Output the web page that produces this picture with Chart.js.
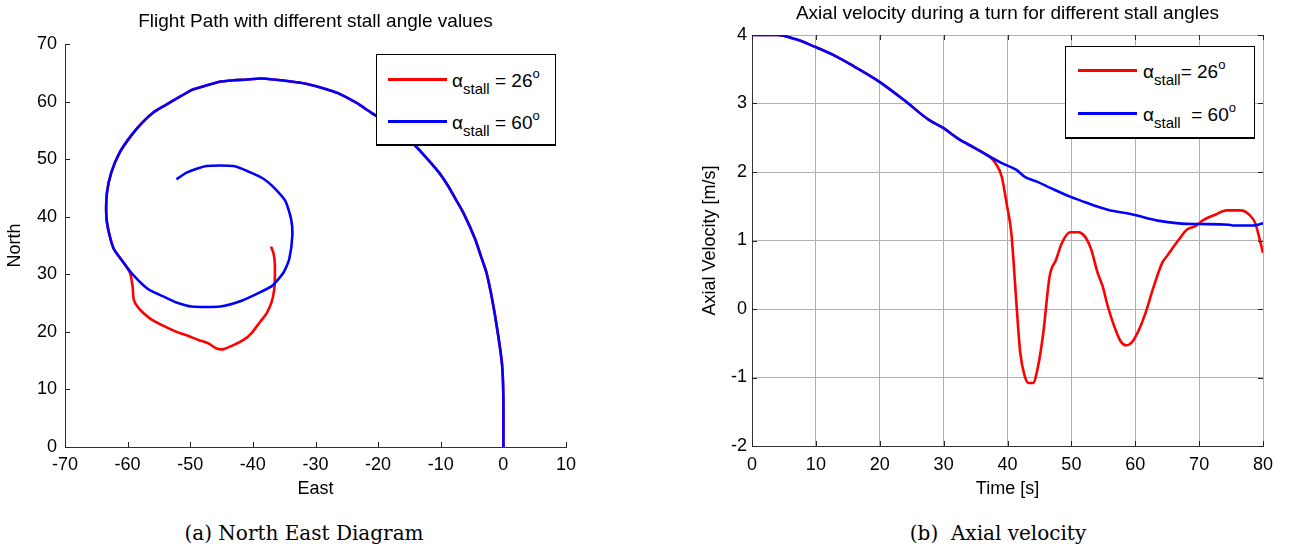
<!DOCTYPE html>
<html>
<head>
<meta charset="utf-8">
<script src="https://cdn.jsdelivr.net/npm/chart.js@4.4.1/dist/chart.umd.min.js"></script>
<style>
  body { margin: 0; background: #fff; width: 1290px; height: 550px; overflow: hidden; position: relative; font-family: "Liberation Sans", Arial, sans-serif; }
  canvas { position: absolute; top: 0; }
  #path { left: 0; }
  #speed { left: 640px; }
  .legend { position: absolute; background: #fff; border: 1px solid #000; border-bottom-width: 2px; box-sizing: border-box; }
  .legend .row { position: absolute; left: 0; right: 0; height: 30px; }
  .legend .swatch { position: absolute; width: 59px; height: 0; top: 14px; border-top: 3px solid; }
  .legend .lbl { position: absolute; top: 2px; font-size: 19px; color: #000; white-space: pre; }
  .legend sub { font-size: 15px; vertical-align: -7px; }
  .legend sup { font-size: 13px; vertical-align: 9px; }
  .caption { position: absolute; top: 521px; font-family: "DejaVu Serif", serif; font-size: 20px; color: #000; white-space: pre; transform: translateX(-50%); }
</style>
</head>
<body>
<canvas id="path" width="640" height="510"></canvas>
<canvas id="speed" width="650" height="510"></canvas>

<div class="legend" style="left:376px;top:54px;width:180px;height:92px;">
  <div class="row" style="top:9px"><div class="swatch" style="left:11px;border-color:#f00"></div><div class="lbl" style="left:75px">α<sub>stall</sub> = 26<sup>o</sup></div></div>
  <div class="row" style="top:51px"><div class="swatch" style="left:11px;border-color:#00f"></div><div class="lbl" style="left:75px">α<sub>stall</sub> = 60<sup>o</sup></div></div>
</div>
<div class="legend" style="left:1065px;top:46px;width:190px;height:93px;">
  <div class="row" style="top:8px"><div class="swatch" style="left:12px;border-color:#f00"></div><div class="lbl" style="left:77px">α<sub>stall</sub>= 26<sup>o</sup></div></div>
  <div class="row" style="top:51px"><div class="swatch" style="left:12px;border-color:#00f"></div><div class="lbl" style="left:77px">α<sub>stall</sub>  = 60<sup>o</sup></div></div>
</div>

<div class="caption" style="left:304px">(a) North East Diagram</div>
<div class="caption" style="left:998px">(b)  Axial velocity</div>

<script>
// FLIGHT PATH (EAST / NORTH) - outer part is shared by both stall angles
const outerEast  = [0, 0, -0.2, -0.9, -1.8, -2.7, -3.6, -4.5, -6.4, -7.6, -8.8, -10.3, -12.5, -14.6, -17.5, -21, -23.5, -26.5, -28.4, -31.5, -33.9, -36.3, -38.8, -41.2, -43.1, -45.5, -48, -49.8, -52.2, -54.1, -55.9, -57.7, -59.5, -61.3, -62.6, -63.3, -63.4, -63, -62.2, -60.7];
const outerNorth = [0, 8.4, 14.2, 19.9, 25.7, 30.3, 33.2, 36.1, 40.7, 43, 45.3, 47.7, 50.5, 52.9, 55.6, 58, 59.8, 61.5, 62.2, 63.1, 63.5, 63.8, 64, 63.8, 63.7, 63.4, 62.6, 62, 60.5, 59.3, 58.1, 56.3, 54, 51.1, 47.7, 44.2, 40.1, 37.3, 34.4, 32.1];
// alpha_stall = 60 deg keeps circling inward
const innerEast  = [-59.2, -56.7, -54, -52.2, -49.8, -45.2, -41.8, -38.8, -36.9, -35.1, -34.2, -33.7, -33.9, -34.8, -36.4, -38.2, -40.4, -43.1, -47.4, -50.5, -52.2];
const innerNorth = [30, 27.4, 26, 25.1, 24.4, 24.4, 25.4, 26.9, 28, 30.3, 32.6, 36.7, 39.6, 42.7, 44.8, 46.5, 47.7, 48.8, 48.8, 47.7, 46.5];
// alpha_stall = 26 deg drops out of the turn
const stallEast  = [-59.6, -59.2, -59, -58, -56.4, -54.6, -52.2, -50.6, -48.7, -47.1, -45.8, -44.7, -43.1, -41.5, -40.2, -38.8, -37.8, -37, -36.6, -36.5, -36.5, -36.7, -37.1];
const stallNorth = [30.2, 27.8, 25.5, 23.8, 22.3, 21.2, 20, 19.4, 18.6, 18, 17.1, 17, 17.7, 18.6, 19.8, 21.8, 23.2, 25.2, 27.3, 29, 31.9, 33.6, 34.8];

// AXIAL VELOCITY - same until ~37 s
const timeShared = [0, 3.9, 6.8, 9.8, 12.7, 16, 19.9, 23.8, 27.7, 30, 32.2, 34.9, 37.1];
const velShared  = [4, 4, 3.94, 3.83, 3.71, 3.54, 3.32, 3.05, 2.76, 2.64, 2.49, 2.35, 2.23];
const time60 = [39.1, 41.4, 42.7, 44.6, 46.9, 49.8, 52.4, 55.7, 59.6, 63.5, 66.8, 70, 74.6, 75.2, 78.5, 80];
const vel60  = [2.13, 2.03, 1.93, 1.86, 1.76, 1.64, 1.55, 1.45, 1.38, 1.29, 1.25, 1.24, 1.23, 1.22, 1.22, 1.25];
const time26 = [38.1, 39.1, 39.9, 40.6, 41, 41.5, 42, 42.7, 43.3, 44, 44.8, 45.6, 46.6, 47.6, 48.5, 49.8, 51.1, 52.1, 53.1, 54.1, 54.9, 55.7, 56.7, 57.7, 58.6, 59.6, 60.6, 61.6, 62.9, 64.2, 65.1, 66.8, 68.1, 69.4, 70.7, 72.6, 74.3, 76.5, 77.8, 78.8, 79.5, 80];
const vel26  = [2.13, 1.93, 1.52, 1.11, 0.62, -0.06, -0.64, -0.98, -1.08, -1.08, -0.83, -0.35, 0.48, 0.72, 0.96, 1.12, 1.12, 1.06, 0.87, 0.53, 0.33, 0.04, -0.25, -0.47, -0.53, -0.47, -0.3, -0.06, 0.33, 0.67, 0.79, 1.01, 1.16, 1.21, 1.3, 1.38, 1.44, 1.44, 1.38, 1.25, 1.01, 0.82];

// AXIS TICKS
const eastTicks = [-70, 10, 10];   // min, max, step
const northTicks = [0, 70, 10];
const timeTicks = [0, 80, 10];
const velTicks = [-2, 4, 1];

const RED = "#ff0000";
const BLUE = "#0000ff";
const FONT = "'Liberation Sans', Arial, sans-serif";

function pts(xs, ys) {
  return xs.map((x, i) => ({ x: x, y: ys[i] }));
}

// matlab style tick marks that point into the plot
const innerTicks = {
  id: "innerTicks",
  afterDatasetsDraw(chart, args, opts) {
    const { ctx, chartArea: a, scales } = chart;
    const len = opts.len || 5;
    ctx.save();
    ctx.strokeStyle = "#222";
    ctx.lineWidth = 1;
    ctx.beginPath();
    scales.x.ticks.forEach((t) => {
      const px = Math.round(scales.x.getPixelForValue(t.value)) + 0.5;
      ctx.moveTo(px, a.bottom);
      ctx.lineTo(px, a.bottom - len);
      if (opts.box) {
        ctx.moveTo(px, a.top);
        ctx.lineTo(px, a.top + len);
      }
    });
    scales.y.ticks.forEach((t) => {
      const py = Math.round(scales.y.getPixelForValue(t.value)) + 0.5;
      ctx.moveTo(a.left, py);
      ctx.lineTo(a.left + len, py);
      if (opts.box) {
        ctx.moveTo(a.right, py);
        ctx.lineTo(a.right - len, py);
      }
    });
    ctx.stroke();
    ctx.restore();
  },
};

function lineSet(label, data, color, order, extra) {
  return Object.assign(
    {
      label: label,
      data: data,
      showLine: true,
      borderColor: color,
      backgroundColor: color,
      borderWidth: 2.6,
      pointRadius: 0,
      fill: false,
      order: order,
    },
    extra || {}
  );
}

function axis(range, tickPad, title, titlePad, fitSize, horizontal, gridOn) {
  return {
    type: "linear",
    min: range[0],
    max: range[1],
    ticks: { stepSize: range[2], color: "#000", font: { family: FONT, size: 18 }, padding: tickPad },
    grid: { display: gridOn, drawTicks: false, color: "#b0b0b0", lineWidth: 1 },
    border: { display: true, color: "#333", width: 1 },
    title: { display: true, text: title, color: "#000", font: { family: FONT, size: 18 }, padding: titlePad },
    afterFit: (s) => {
      if (horizontal) s.height = fitSize;
      else s.width = fitSize;
    },
  };
}

// NORTH EAST DIAGRAM
new Chart(document.getElementById("path"), {
  type: "scatter",
  data: {
    datasets: [
      lineSet("26", pts(outerEast.concat(stallEast), outerNorth.concat(stallNorth)), RED, 2, { tension: 0.2 }),
      lineSet("60", pts(outerEast.concat(innerEast), outerNorth.concat(innerNorth)), BLUE, 1, { tension: 0.2 }),
    ],
  },
  options: {
    responsive: false,
    animation: false,
    devicePixelRatio: 1,
    layout: { padding: { left: 4, right: 74, top: 0, bottom: 0 } },
    plugins: {
      legend: { display: false },
      tooltip: { enabled: false },
      title: {
        display: true,
        fullSize: false,
        text: "Flight Path with different stall angle values",
        color: "#000",
        font: { family: FONT, size: 19, weight: "normal" },
        padding: { top: 10.6, bottom: 10.6 },
      },
      innerTicks: { len: 5, box: false },
    },
    scales: {
      x: axis(eastTicks, 7, "East", { top: 0, bottom: 10 }, 63, true, false),
      y: axis(northTicks, 8, "North", { top: 0, bottom: 0 }, 61, false, false),
    },
  },
  plugins: [innerTicks],
});

// AXIAL VELOCITY
new Chart(document.getElementById("speed"), {
  type: "scatter",
  data: {
    datasets: [
      lineSet("26", pts(timeShared.concat(time26), velShared.concat(vel26)), RED, 2, { cubicInterpolationMode: "monotone" }),
      lineSet("60", pts(timeShared.concat(time60), velShared.concat(vel60)), BLUE, 1, { cubicInterpolationMode: "monotone" }),
    ],
  },
  options: {
    responsive: false,
    animation: false,
    devicePixelRatio: 1,
    layout: { padding: { left: 59, right: 27, top: 0, bottom: 0 } },
    plugins: {
      legend: { display: false },
      tooltip: { enabled: false },
      title: {
        display: true,
        fullSize: false,
        text: "Axial velocity during a turn for different stall angles",
        color: "#000",
        font: { family: FONT, size: 19, weight: "normal" },
        padding: { top: 2.6, bottom: 9.6 },
      },
      innerTicks: { len: 5, box: true },
    },
    scales: {
      x: axis(timeTicks, 8, "Time [s]", { top: 0, bottom: 10 }, 64, true, true),
      y: axis(velTicks, 5, "Axial Velocity [m/s]", { top: 0, bottom: 0 }, 53, false, true),
    },
  },
  plugins: [innerTicks],
});
</script>
</body>
</html>
